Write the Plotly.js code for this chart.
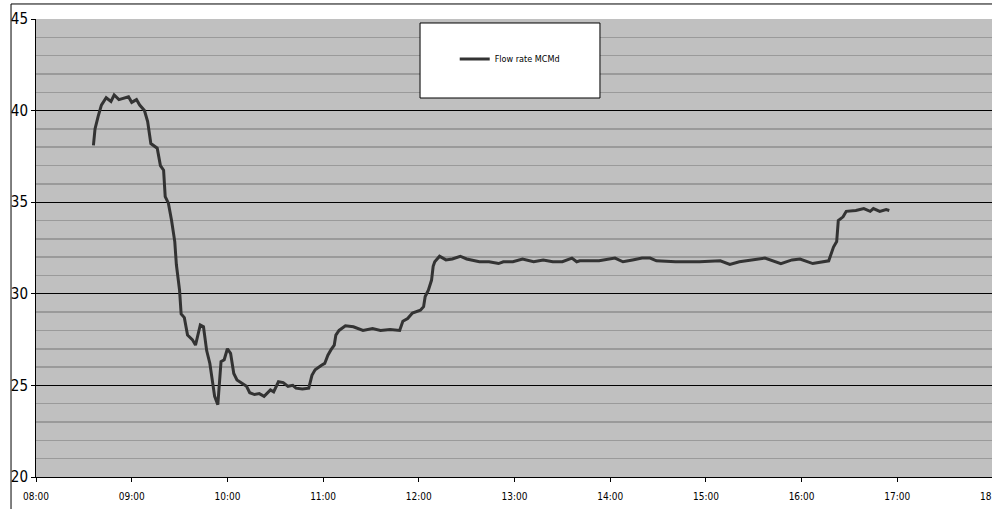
<!DOCTYPE html>
<html>
<head>
<meta charset="utf-8">
<script src="https://cdn.plot.ly/plotly-3.0.1.min.js"></script>
<style>
html,body{margin:0;padding:0;overflow:hidden;background:#fff;}
#chart{width:1010px;height:509px;}
</style>
</head>
<body>
<div id="chart"></div>
<script>
// Data
const seriesName = "Flow rate MCMd";
const times = [
 "08:36","08:37","08:39","08:41","08:44","08:47","08:49","08:52","08:58","09:00",
 "09:03","09:05","09:08","09:10","09:12","09:16","09:18","09:20","09:21","09:23",
 "09:25","09:27","09:28","09:30","09:31","09:33","09:35","09:38","09:40","09:43",
 "09:45","09:47","09:49","09:51","09:52","09:54","09:55","09:56","09:58","10:00",
 "10:02","10:04","10:06","10:09","10:12","10:14","10:17","10:20","10:23","10:27",
 "10:29","10:32","10:35","10:38","10:41","10:43","10:47","10:51","10:53","10:55",
 "10:57","10:59","11:01","11:03","11:05","11:07","11:08","11:10","11:14","11:19",
 "11:25","11:31","11:36","11:42","11:48","11:50","11:53","11:56","12:01","12:03",
 "12:04","12:06","12:08","12:09","12:10","12:13","12:17","12:21","12:26","12:30",
 "12:38","12:44","12:50","12:53","12:59","13:05","13:12","13:18","13:24","13:30",
 "13:36","13:39","13:41","13:53","14:03","14:08","14:14","14:20","14:25","14:29",
 "14:41","14:56","15:09","15:15","15:21","15:29","15:37","15:47","15:54","15:59",
 "16:07","16:17","16:20","16:22","16:23","16:26","16:28","16:34","16:39","16:43",
 "16:45","16:49","16:53","16:55"
];
const flowRate = [
 38.1,39.0,39.7,40.3,40.7,40.5,40.85,40.6,40.75,40.45,
 40.6,40.3,40.0,39.4,38.2,37.95,37.0,36.75,35.3,34.95,
 34.0,32.85,31.6,30.2,28.9,28.7,27.75,27.5,27.2,28.3,
 28.2,26.9,26.2,25.1,24.4,23.95,25.3,26.3,26.4,27.0,
 26.75,25.65,25.3,25.1,24.95,24.6,24.5,24.55,24.4,24.75,
 24.65,25.2,25.15,24.95,25.0,24.85,24.8,24.85,25.55,25.85,
 26.0,26.1,26.2,26.65,26.95,27.2,27.75,28.0,28.25,28.2,
 28.0,28.1,28.0,28.05,28.0,28.5,28.65,28.95,29.1,29.3,
 29.85,30.2,30.75,31.5,31.75,32.05,31.85,31.9,32.05,31.9,
 31.75,31.75,31.65,31.75,31.75,31.9,31.75,31.85,31.75,31.75,
 31.95,31.75,31.8,31.8,31.95,31.75,31.85,31.95,31.95,31.8,
 31.75,31.75,31.8,31.6,31.75,31.85,31.95,31.65,31.85,31.9,
 31.65,31.8,32.55,32.85,34.0,34.2,34.5,34.55,34.65,34.5,
 34.65,34.5,34.6,34.55
];
const xStart = "08:00", xEnd = "18:00";
const yMin = 20, yMax = 45;

const day = "2000-01-01 ";
const narrow = '"Liberation Sans Narrow", "Arial Narrow", "DejaVu Sans Condensed", "Liberation Sans", Arial, sans-serif';

const trace = {
  x: times.map(t => day + t),
  y: flowRate,
  type: "scatter",
  mode: "lines",
  name: seriesName,
  line: {color: "#333333", width: 3}
};

const layout = {
  width: 1010,
  height: 509,
  margin: {l: 36, r: 17, t: 19, b: 32, pad: 0},
  paper_bgcolor: "#ffffff",
  plot_bgcolor: "#c0c0c0",
  showlegend: true,
  legend: {
    x: 0.495, y: 0.9127, xanchor: "center", yanchor: "middle",
    bgcolor: "rgba(0,0,0,0)", borderwidth: 0,
    font: {family: narrow, size: 9, color: "#000"},
    itemwidth: 30
  },
  xaxis: {
    type: "date",
    range: [day + xStart, day + xEnd],
    dtick: 3600000,
    tick0: day + xStart,
    tickformat: "%H:%M",
    showgrid: false,
    zeroline: false,
    showline: true, linecolor: "#000", linewidth: 1,
    ticks: "outside", ticklen: 4, tickcolor: "#000", tickwidth: 1,
    ticklabelstandoff: 6,
    tickfont: {family: narrow, size: 10, color: "#000"}
  },
  yaxis: {
    range: [yMin, yMax],
    dtick: 5,
    tick0: 20,
    showgrid: true, gridcolor: "#000000", gridwidth: 1,
    minor: {dtick: 1, showgrid: true, gridcolor: "#9a9a9a", gridwidth: 1.5, ticks: ""},
    zeroline: false,
    showline: true, linecolor: "#000", linewidth: 1,
    ticks: "outside", ticklen: 4, tickcolor: "#000", tickwidth: 1,
    tickfont: {family: narrow, size: 15, color: "#000"}
  },
  shapes: [
    {type: "rect", xref: "paper", yref: "paper", x0: -0.0261, x1: 1.2, y0: -0.3, y1: 1.0328,
     line: {color: "#000", width: 1}, fillcolor: "rgba(0,0,0,0)", layer: "below"},
    {type: "rect", xref: "paper", yref: "paper", x0: 0.4013, x1: 0.5893, y0: 0.8275, y1: 0.9913,
     line: {color: "#000", width: 1}, fillcolor: "#ffffff", layer: "above"}
  ]
};

Plotly.newPlot("chart", [trace], layout, {displayModeBar: false, staticPlot: true});
</script>
</body>
</html>
